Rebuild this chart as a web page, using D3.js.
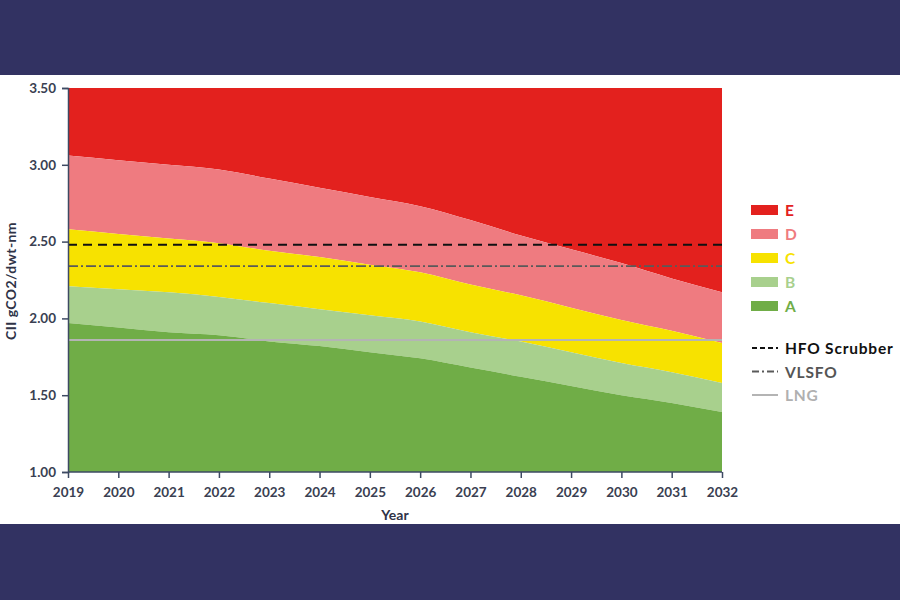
<!DOCTYPE html>
<html>
<head>
<meta charset="utf-8">
<script src="https://cdn.jsdelivr.net/npm/d3@7"></script>
<style>
  body { margin: 0; background: #fff; }
  svg { display: block; }
  text { font-family: "Lato", "DejaVu Sans", sans-serif; font-weight: 700; }
</style>
</head>
<body>
<svg id="chart"></svg>
<script>
// years on the x axis
const years = [2019, 2020, 2021, 2022, 2023, 2024, 2025, 2026, 2027, 2028, 2029, 2030, 2031, 2032];
// upper boundary of each rating band (gCO2/dwt-nm)
const upperD = [3.06, 3.03, 3.00, 2.97, 2.91, 2.85, 2.79, 2.73, 2.64, 2.54, 2.45, 2.36, 2.26, 2.17];
const upperC = [2.58, 2.55, 2.52, 2.49, 2.44, 2.40, 2.35, 2.30, 2.22, 2.15, 2.07, 1.99, 1.92, 1.84];
const upperB = [2.21, 2.19, 2.17, 2.14, 2.10, 2.06, 2.02, 1.98, 1.91, 1.85, 1.78, 1.71, 1.65, 1.58];
const upperA = [1.97, 1.94, 1.91, 1.89, 1.85, 1.82, 1.78, 1.74, 1.68, 1.62, 1.56, 1.50, 1.45, 1.39];
const bands = ["E", "D", "C", "B", "A"];
const bandColors = ["#e3211e", "#ef7b80", "#f7e200", "#a8d08d", "#70ad47"];
// fuel reference lines
const fuels = ["HFO Scrubber", "VLSFO", "LNG"];
const fuelValues = [2.48, 2.34, 1.86];
const yTicks = [1.0, 1.5, 2.0, 2.5, 3.0, 3.5];

const W = 900, H = 600;
const margin = { top: 88, left: 68, right: 178, bottom: 128 };
const svg = d3.select("#chart").attr("width", W).attr("height", H);

// dark bands top and bottom
svg.append("rect").attr("x", 0).attr("y", 0).attr("width", W).attr("height", 75).attr("fill", "#323262");
svg.append("rect").attr("x", 0).attr("y", 524).attr("width", W).attr("height", 76).attr("fill", "#323262");

const x = d3.scaleLinear().domain([2019, 2032]).range([margin.left, W - margin.right]);
const y = d3.scaleLinear().domain([1, 3.5]).range([H - margin.bottom, margin.top]);

// band tops, bottom of each band is the next one's top
const tops = [years.map(() => 3.5), upperD, upperC, upperB, upperA];
const bottoms = [upperD, upperC, upperB, upperA, years.map(() => 1)];

for (let b = 0; b < bands.length; b++) {
  const area = d3.area()
    .x((d, i) => x(years[i]))
    .y0((d, i) => y(bottoms[b][i]))
    .y1((d, i) => y(tops[b][i]))
    .curve(d3.curveMonotoneX);
  svg.append("path")
    .datum(years)
    .attr("d", area)
    .attr("fill", bandColors[b]);
}

const fuelStyle = [
  { stroke: "#111", dash: "9,6", width: 2 },
  { stroke: "#5a5a5a", dash: "10,3,2,3", width: 1.8 },
  { stroke: "#b4b4b4", dash: null, width: 2 }
];

fuelValues.forEach((v, i) => {
  svg.append("line")
    .attr("x1", x(2019)).attr("x2", x(2032))
    .attr("y1", y(v)).attr("y2", y(v))
    .attr("stroke", fuelStyle[i].stroke)
    .attr("stroke-width", fuelStyle[i].width)
    .attr("stroke-dasharray", fuelStyle[i].dash);
});

// axes
const axisColor = "#3d4a63";
const xAxis = svg.append("g")
  .attr("transform", `translate(0,${H - margin.bottom})`)
  .call(d3.axisBottom(x).tickValues(years).tickFormat(d3.format("d")).tickSize(6).tickPadding(9));
const yAxis = svg.append("g")
  .attr("transform", `translate(${margin.left},0)`)
  .call(d3.axisLeft(y).tickValues(yTicks).tickFormat(d3.format(".2f")).tickSize(6).tickPadding(6));

[xAxis, yAxis].forEach(g => {
  g.selectAll("path, line").attr("stroke", axisColor).attr("stroke-width", 1.5);
  g.selectAll("text").attr("fill", "#3a3f52").attr("font-size", 13.5);
});
xAxis.select(".domain").attr("d", `M${x(2019)},0H${x(2032)}`);

svg.append("text")
  .attr("x", (x(2019) + x(2032)) / 2).attr("y", 520)
  .attr("text-anchor", "middle").attr("font-size", 14).attr("fill", "#2f3347")
  .text("Year");

svg.append("text")
  .attr("transform", `translate(16,281) rotate(-90)`)
  .attr("text-anchor", "middle").attr("font-size", 14).attr("letter-spacing", 0.4).attr("fill", "#2f3347")
  .text("CII gCO2/dwt-nm");

// legend for bands
const legend = svg.append("g");
bands.forEach((b, i) => {
  const cy = 210 + i * 24;
  legend.append("rect").attr("x", 751).attr("y", cy - 5).attr("width", 27).attr("height", 10).attr("fill", bandColors[i]);
  legend.append("text").attr("x", 785).attr("y", cy + 6).attr("font-size", 15.5).attr("fill", bandColors[i]).text(b);
});

// legend for fuel lines
const fuelText = ["#111", "#555", "#b0b0b0"];
fuels.forEach((f, i) => {
  const cy = 348 + i * 23.5;
  legend.append("line")
    .attr("x1", 752).attr("x2", 778).attr("y1", cy).attr("y2", cy)
    .attr("stroke", fuelStyle[i].stroke).attr("stroke-width", 2)
    .attr("stroke-dasharray", i === 0 ? "5,3" : i === 1 ? "7,3,2,3" : null);
  legend.append("text").attr("x", 785).attr("y", cy + 6).attr("font-size", 15.5).attr("letter-spacing", 0.8)
    .attr("fill", fuelText[i]).text(f);
});
</script>
</body>
</html>
